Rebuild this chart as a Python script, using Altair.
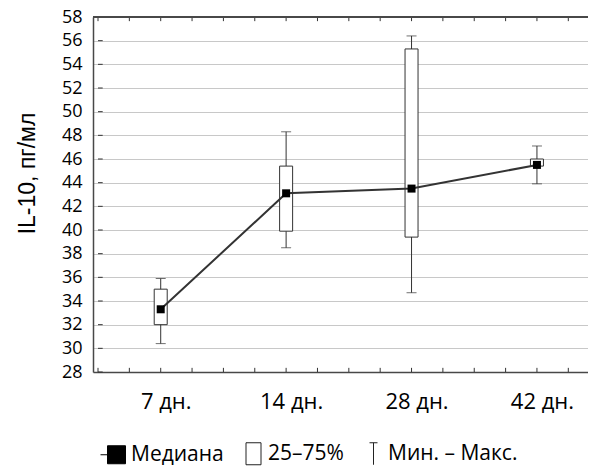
import altair as alt
import pandas as pd

# ---- data ----
days = ["7 дн.", "14 дн.", "28 дн.", "42 дн."]
day_slot = [2, 6, 10, 14]          # category slots on the x axis (minor ticks every slot)
mins = [30.4, 38.5, 34.7, 43.9]
q1 = [32.0, 39.9, 39.4, 45.4]
med = [33.3, 43.1, 43.5, 45.5]
q3 = [35.0, 45.4, 55.3, 46.0]
maxs = [35.9, 48.3, 56.4, 47.1]

y_ticks = list(range(28, 59, 2))
x_minor = list(range(0, 16))
legend_items = ["Медиана", "25–75%", "Мин. – Макс."]

df = pd.DataFrame({"day": days, "slot": day_slot, "min": mins, "q1": q1,
                   "med": med, "q3": q3, "max": maxs})
df_y = pd.DataFrame({"v": y_ticks})
df_x = pd.DataFrame({"s": x_minor})
df_leg = pd.DataFrame({"item": legend_items, "slot": day_slot[:3], "v": med[:3]})

W, H = 495, 355
FONT = "Open Sans"
FRAME = "#484848"

xscale = alt.Scale(domain=[0, W / 32], nice=False, zero=False)
yscale = alt.Scale(domain=[28, 58], nice=False, zero=False)

label_expr = "{" + ",".join(f"'{s}':'{d}'" for s, d in zip(day_slot, days)) + "}[datum.value]"

x_axis = alt.Axis(values=day_slot, labelExpr=label_expr, title=None,
                  ticks=False, grid=False, labelPadding=19, labelOffset=5,
                  labelFontSize=22, labelFont=FONT, labelColor="#000",
                  labelOverlap=False, domainColor=FRAME, domainWidth=1.5)

y_axis = alt.Axis(values=y_ticks, title="IL-10, пг/мл", ticks=False,
                  grid=True, gridColor="#c8c8c8", gridWidth=1,
                  labelOverlap=False, labelPadding=11, labelFontSize=18,
                  labelFont=FONT, labelColor="#000", domainColor=FRAME,
                  domainWidth=1.5, titleFont="Liberation Sans", titleFontSize=23,
                  titleFontWeight="normal", titleColor="#000",
                  titleX=-66, titleY=156, titleAlign="center",
                  titleBaseline="middle")


def X(field):
    return alt.X(field, scale=xscale, axis=x_axis, title=None)


def Y(field):
    return alt.Y(field, scale=yscale, axis=y_axis, title="IL-10, пг/мл")


def XD(v):
    return alt.datum(v, type="quantitative", scale=xscale, axis=x_axis, title=None)


def YD(v):
    return alt.datum(v, type="quantitative", scale=yscale, axis=y_axis,
                     title="IL-10, пг/мл")


top_frame = alt.Chart(df_y).mark_rule(color=FRAME, strokeWidth=1.5).encode(y=YD(58))

left_ticks = alt.Chart(df_y).mark_rule(color="#333", strokeWidth=1).encode(
    y=Y("v:Q"), x=XD(0), x2=alt.datum(0.15))

bottom_ticks = alt.Chart(df_x).mark_rule(color="#333", strokeWidth=1).encode(
    x=X("s:Q"), y=YD(28), y2=alt.datum(28.35))

top_ticks = alt.Chart(df_x).mark_rule(color="#333", strokeWidth=1).encode(
    x=X("s:Q"), y=YD(58), y2=alt.datum(57.65))

whisker = alt.Chart(df).mark_rule(color="#333", strokeWidth=1).encode(
    x=X("slot:Q"), y=Y("min:Q"), y2="max:Q")

caps_hi = alt.Chart(df).mark_tick(color="#333", orient="horizontal", size=10,
                                  thickness=1).encode(x=X("slot:Q"), y=Y("max:Q"))
caps_lo = alt.Chart(df).mark_tick(color="#333", orient="horizontal", size=10,
                                  thickness=1).encode(x=X("slot:Q"), y=Y("min:Q"))

box = alt.Chart(df).mark_bar(fill="white", stroke="#333", strokeWidth=1,
                             width=13).encode(x=X("slot:Q"), y=Y("q1:Q"), y2="q3:Q")

line = alt.Chart(df).mark_line(color="#333333", strokeWidth=2).encode(
    x=X("slot:Q"), y=Y("med:Q"))

pts = alt.Chart(df).mark_square(color="black", size=64, opacity=1).encode(
    x=X("slot:Q"), y=Y("med:Q"))

shape_paths = [
    "M-1.6,0H-0.9M-0.9,-0.9H0.9V0.9H-0.9Z",
    "M-0.75,-1.1H0.75V1.1H-0.75Z",
    "M-0.4,-1.1H0.4M0,-1.1V1.1",
]
leg_props = dict(title=None, orient="none", legendX=13, legendY=426,
                 direction="horizontal", symbolSize=400, symbolOpacity=1,
                 symbolStrokeWidth=1, labelOffset=4,
                 columnPadding=19, labelFontSize=21,
                 labelFont=FONT, labelColor="#000", labelLimit=400)
legend_layer = alt.Chart(df_leg).mark_point(size=0, strokeWidth=1, opacity=1).encode(
    x=X("slot:Q"), y=Y("v:Q"),
    shape=alt.Shape("item:N", scale=alt.Scale(domain=legend_items, range=shape_paths),
                    legend=alt.Legend(**leg_props)),
    fill=alt.Fill("item:N", scale=alt.Scale(domain=legend_items,
                                            range=["black", "white", "transparent"]),
                  legend=alt.Legend(**leg_props)),
    stroke=alt.Stroke("item:N", scale=alt.Scale(domain=legend_items,
                                                range=["black", "#222", "#222"]),
                      legend=alt.Legend(**leg_props)),
)

chart = alt.layer(
    whisker, caps_hi, caps_lo, box, line, pts,
    left_ticks, bottom_ticks, top_ticks, top_frame, legend_layer
).properties(
    width=W, height=H,
    autosize=alt.AutoSizeParams(type="none"),
    padding={"left": 85, "top": 9, "right": 0, "bottom": 95},
    background="white",
).configure_view(stroke=None)

chart.save("out.html", embed_options={"renderer": "svg", "actions": False})
